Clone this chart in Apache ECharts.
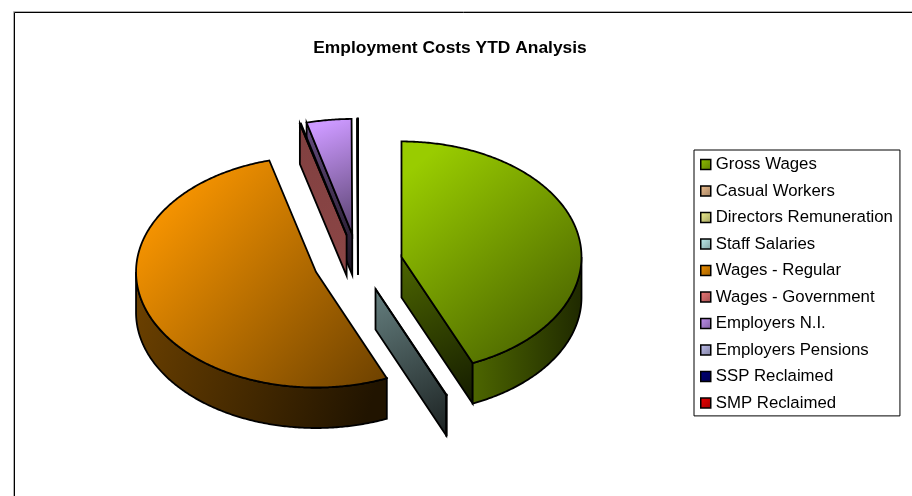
<!DOCTYPE html>
<html><head><meta charset="utf-8">
<style>html,body{margin:0;padding:0;background:#fff}#c{width:912px;height:496px}</style>
<script src="https://cdn.jsdelivr.net/npm/echarts@6/dist/echarts.min.js"></script>
</head><body><div id="c"></div>
<script>
var categories = ['Gross Wages','Casual Workers','Directors Remuneration','Staff Salaries','Wages - Regular','Wages - Government','Employers N.I.','Employers Pensions','SSP Reclaimed','SMP Reclaimed'];
var values = [43.53,0,0,0.04,52.25,0.1,4.02,0.04,0.01,0.01];
var colors = ['#99CC00','#FFCC99','#FFFF99','#CCFFFF','#FF9900','#FF8080','#CC99FF','#CCCCFF','#000080','#FF0000'];

var CX=358, CY=262.7, RX=180, RY=115.5, DEPTH=40.5, EXPLODE=44.4;
function shade(hex,f){var n=parseInt(hex.slice(1),16);
  return 'rgb('+[(n>>16)&255,(n>>8)&255,n&255].map(function(v){return Math.round(v*f)}).join(',')+')';}
function grad(hex,a,b,x2,y2,hold){return {type:'linear',x:0,y:0,x2:x2==null?1:x2,y2:y2==null?1:y2,
  colorStops:[{offset:0,color:shade(hex,a)},{offset:hold||0,color:shade(hex,a)},{offset:1,color:shade(hex,b)}]};}
var total=values.reduce(function(s,v){return s+v},0);
var cum=0;
var ranges=values.map(function(v){var r=[cum,cum+v];cum+=v;return r;});

function makeRender(i){
  return function(params,api){
    var p0=api.value(0),p1=api.value(1);
    if(p1-p0<=0) return {type:'group',children:[]};
    var a0=p0/total*2*Math.PI,a1=p1/total*2*Math.PI,mid=(a0+a1)/2;
    var cx=CX+EXPLODE*Math.sin(mid), cy=CY-EXPLODE*RY/RX*Math.cos(mid);
    function pt(a,z){return [cx+RX*Math.sin(a),cy-RY*Math.cos(a)+z];}
    function arc(s,e,z){var out=[],n=Math.max(1,Math.ceil(Math.abs(e-s)/0.01));
      for(var k=0;k<=n;k++)out.push(pt(s+(e-s)*k/n,z));return out;}
    var base=Math.round((1-Math.cos(mid))*1000)*10;
    var col=colors[i], flat=(i===5);
    var sideA=0.5, sideB=flat?0.55:0.13;
    var kids=[];
    function face(points,fill,z2){kids.push({type:'polygon',z2:base+z2,shape:{points:points},
      style:{fill:fill,stroke:'#000',lineWidth:1.8,lineJoin:'miter'}});}
    if(Math.sin(a1)>1e-6){face([[cx,cy],pt(a1,0),pt(a1,DEPTH),[cx,cy+DEPTH]],grad(col,sideA,sideB),0);}
    if(Math.sin(a0)<-1e-6){face([[cx,cy],pt(a0,0),pt(a0,DEPTH),[cx,cy+DEPTH]],grad(col,sideA,sideB),0);}
    var s=Math.max(a0,Math.PI/2),e=Math.min(a1,1.5*Math.PI);
    if(e>s){
      var rimFill=a0<Math.PI/2?grad(col,0.5,0.2,1,0):grad(col,0.43,0.13,1,0.5);
      face(arc(s,e,0).concat(arc(e,s,DEPTH)),rimFill,1);
    }
    face([[cx,cy]].concat(arc(a0,a1,0)),grad(col,1,0.42,1,1,0.1),2);
    return {type:'group',children:kids};
  };
}
var series=categories.map(function(name,i){
  return {type:'custom',name:name,coordinateSystem:'none',silent:true,animation:false,
    renderItem:makeRender(i),data:[ranges[i]],itemStyle:{color:colors[i]}};
});
var chart=echarts.init(document.getElementById('c'),null,{renderer:'canvas'});
chart.setOption({
  backgroundColor:'#fff',animation:false,
  title:{text:'Employment Costs YTD Analysis',left:445,top:35,textAlign:'center',
    textStyle:{fontFamily:'Liberation Sans',fontSize:17.4,fontWeight:'bold',color:'#000'}},
  legend:{orient:'vertical',left:694,top:150,padding:[6,7,4.4,6],selectedMode:false,
    backgroundColor:'#fff',borderColor:'#000',borderWidth:1,borderRadius:0,
    itemWidth:10,itemHeight:10,itemGap:9.5,
    textStyle:{fontFamily:'Liberation Sans',fontSize:16.8,color:'#000',lineHeight:16},
    data:categories.map(function(name,i){return {name:name,icon:'rect',
      itemStyle:{color:grad(colors[i],0.95,0.62),borderColor:'#000',borderWidth:1.5}};})},
  graphic:[
    {type:'rect',silent:true,z:0,shape:{x:13.5,y:11.5,width:1000,height:1000},style:{fill:'none',stroke:'#b0b0b0',lineWidth:1}},
    {type:'rect',silent:true,z:0,shape:{x:14.5,y:12.5,width:1000,height:1000},style:{fill:'none',stroke:'#000',lineWidth:1}}
  ],
  series:series
});
</script></body></html>
